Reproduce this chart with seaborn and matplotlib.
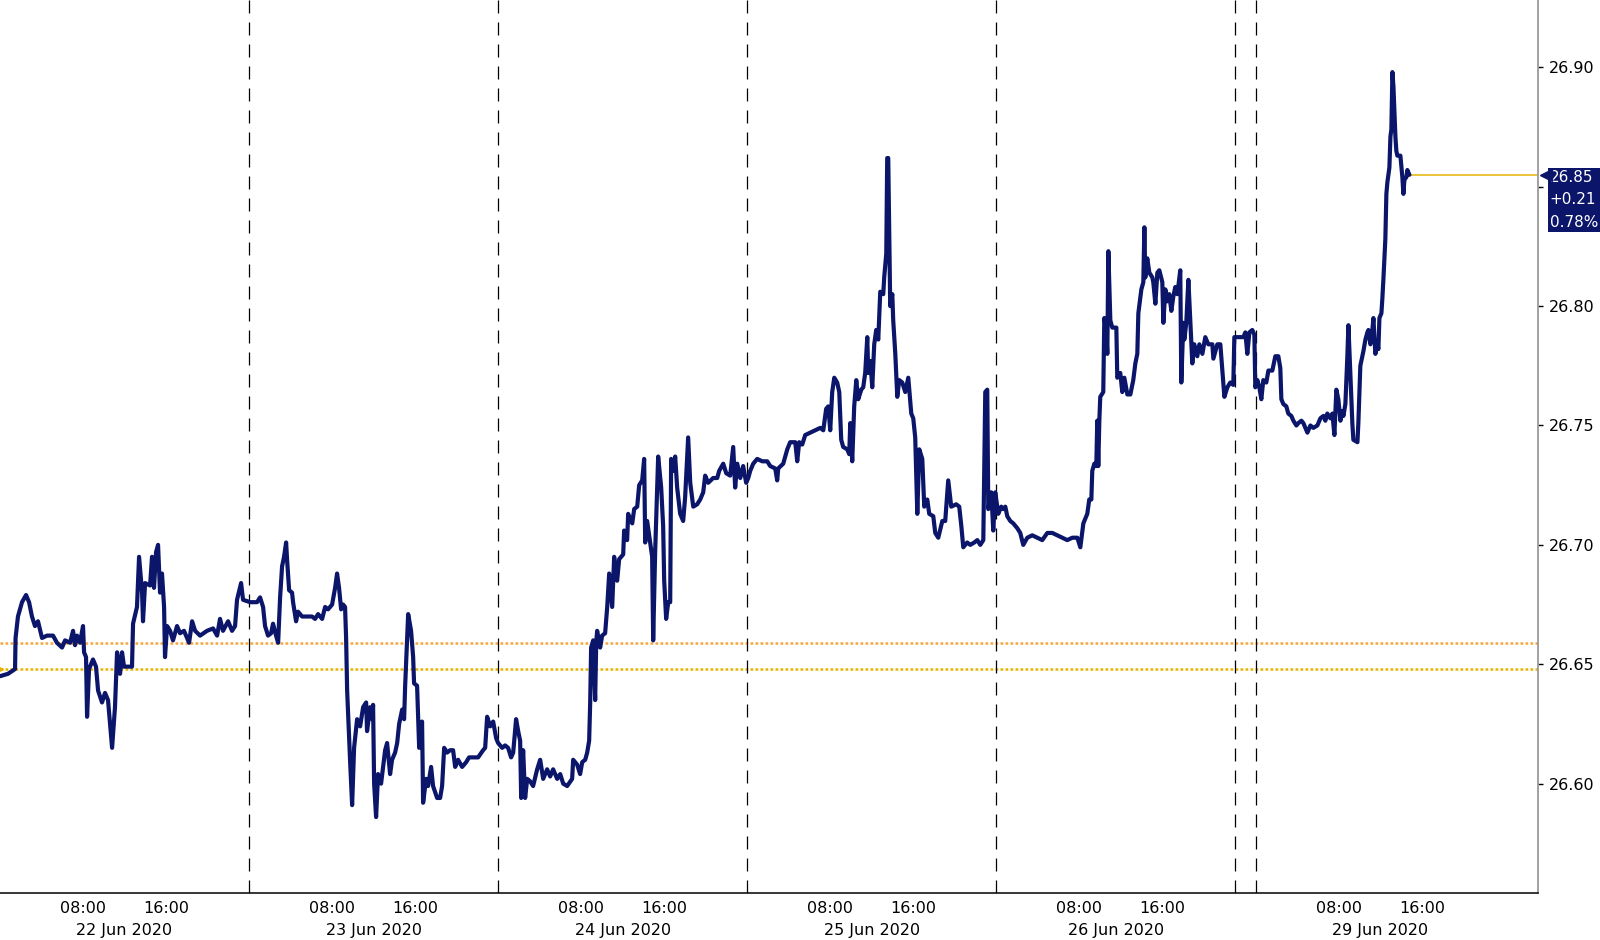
import pandas as pd
import seaborn as sns
import matplotlib.pyplot as plt
import matplotlib.transforms as mtransforms

# intraday prices, hours are on each session's clock
t22 = [0.00, 0.77, 1.45, 1.50, 1.73, 2.12, 2.51, 2.80, 3.08, 3.37, 3.66, 4.05, 4.53, 5.11, 5.49, 5.98, 6.27, 6.75, 7.04, 7.23,
       7.42, 7.71, 8.00, 8.10, 8.29, 8.39, 8.58, 8.96, 9.25, 9.45, 9.83, 10.12, 10.41, 10.80, 11.08, 11.28, 11.57, 11.76, 11.95, 12.72,
       12.82, 13.20, 13.40, 13.69, 13.78, 13.98, 14.46, 14.65, 14.84, 15.04, 15.23, 15.42, 15.61, 15.81, 15.90, 16.10, 16.39, 16.67, 17.06, 17.35,
       17.73, 18.02, 18.22, 18.51, 18.80, 19.28, 19.95, 20.53, 20.92, 21.20, 21.49, 21.98, 22.36, 22.65, 22.84, 23.23, 23.42]
p22 = [26.645, 26.646, 26.648, 26.661, 26.670, 26.676, 26.679, 26.676, 26.670, 26.666, 26.668, 26.661, 26.662, 26.662, 26.659, 26.657, 26.660, 26.659, 26.664, 26.658,
       26.662, 26.659, 26.666, 26.655, 26.653, 26.628, 26.648, 26.652, 26.649, 26.639, 26.634, 26.638, 26.635, 26.615, 26.632, 26.655, 26.646, 26.655, 26.649, 26.649,
       26.667, 26.674, 26.695, 26.680, 26.668, 26.684, 26.683, 26.695, 26.682, 26.697, 26.700, 26.680, 26.688, 26.674, 26.653, 26.666, 26.664, 26.660, 26.666, 26.663,
       26.664, 26.661, 26.659, 26.668, 26.664, 26.662, 26.664, 26.665, 26.662, 26.669, 26.664, 26.668, 26.664, 26.666, 26.677, 26.684, 26.677]

t23 = [0.10, 0.77, 1.06, 1.35, 1.54, 1.83, 2.12, 2.31, 2.60, 2.80, 2.99, 3.18, 3.37, 3.57, 3.66, 3.86, 4.14, 4.24, 4.53, 4.72,
       5.11, 5.59, 6.07, 6.36, 6.65, 7.04, 7.33, 7.61, 8.00, 8.29, 8.48, 8.67, 8.87, 9.06, 9.25, 9.35, 9.45, 9.73, 9.93, 10.12,
       10.41, 10.70, 10.99, 11.28, 11.37, 11.66, 11.86, 11.95, 12.05, 12.24, 12.43, 12.72, 12.92, 13.11, 13.30, 13.59, 13.78, 14.07, 14.27, 14.46,
       14.75, 14.94, 15.04, 15.23, 15.33, 15.61, 15.81, 15.90, 16.19, 16.39, 16.67, 16.77, 17.06, 17.25, 17.54, 17.73, 18.12, 18.41, 18.60, 18.80,
       19.08, 19.37, 19.66, 19.86, 20.14, 20.53, 20.92, 21.20, 21.59, 22.07, 22.55, 22.75, 22.94, 23.23, 23.52, 23.81]
p23 = [26.676, 26.676, 26.678, 26.674, 26.666, 26.662, 26.663, 26.667, 26.662, 26.659, 26.678, 26.691, 26.695, 26.701, 26.694, 26.681, 26.680, 26.676, 26.668, 26.672,
       26.670, 26.670, 26.670, 26.669, 26.671, 26.669, 26.674, 26.673, 26.675, 26.682, 26.688, 26.682, 26.673, 26.675, 26.674, 26.661, 26.639, 26.610, 26.591, 26.615,
       26.627, 26.624, 26.632, 26.634, 26.622, 26.632, 26.627, 26.633, 26.600, 26.586, 26.604, 26.600, 26.607, 26.614, 26.617, 26.604, 26.610, 26.613, 26.617, 26.625,
       26.631, 26.627, 26.641, 26.661, 26.671, 26.664, 26.653, 26.642, 26.641, 26.615, 26.626, 26.592, 26.602, 26.599, 26.607, 26.599, 26.594, 26.594, 26.599, 26.615,
       26.613, 26.614, 26.614, 26.607, 26.610, 26.607, 26.609, 26.611, 26.611, 26.611, 26.614, 26.615, 26.628, 26.624, 26.626, 26.619]

t24 = [0.00, 0.39, 0.67, 0.96, 1.25, 1.45, 1.73, 1.93, 2.12, 2.22, 2.41, 2.60, 2.80, 3.08, 3.37, 3.76, 4.05, 4.34, 4.72, 5.01,
       5.30, 5.69, 5.98, 6.27, 6.65, 7.13, 7.23, 7.61, 7.90, 8.10, 8.39, 8.58, 8.77, 8.87, 8.96, 9.16, 9.35, 9.45, 9.54, 9.83,
       10.02, 10.31, 10.51, 10.70, 10.99, 11.18, 11.47, 11.66, 12.05, 12.14, 12.43, 12.53, 12.92, 13.11, 13.40, 13.59, 13.88, 14.07, 14.17, 14.36,
       14.84, 14.94, 15.13, 15.42, 15.71, 15.90, 16.00, 16.19, 16.39, 16.58, 16.67, 16.87, 17.06, 17.25, 17.54, 17.83, 18.02, 18.31, 18.51, 18.80,
       19.18, 19.47, 19.76, 19.95, 20.24, 20.72, 21.11, 21.30, 21.69, 21.98, 22.36, 22.65, 22.84, 23.04, 23.33, 23.61, 23.90]
p24 = [26.617, 26.615, 26.616, 26.615, 26.611, 26.613, 26.627, 26.622, 26.618, 26.594, 26.614, 26.594, 26.602, 26.601, 26.599, 26.606, 26.610, 26.602, 26.606, 26.603,
       26.606, 26.602, 26.604, 26.600, 26.599, 26.602, 26.610, 26.608, 26.604, 26.609, 26.610, 26.613, 26.618, 26.634, 26.657, 26.660, 26.635, 26.659, 26.664, 26.657,
       26.662, 26.663, 26.674, 26.688, 26.674, 26.695, 26.685, 26.694, 26.696, 26.706, 26.702, 26.713, 26.709, 26.715, 26.716, 26.725, 26.727, 26.736, 26.701, 26.710,
       26.695, 26.660, 26.697, 26.737, 26.724, 26.708, 26.685, 26.669, 26.676, 26.676, 26.736, 26.731, 26.737, 26.724, 26.713, 26.710, 26.720, 26.745, 26.726, 26.716,
       26.717, 26.719, 26.722, 26.729, 26.726, 26.728, 26.728, 26.731, 26.734, 26.730, 26.729, 26.741, 26.724, 26.734, 26.728, 26.733, 26.726]

t25 = [0.10, 0.29, 0.58, 0.96, 1.45, 1.93, 2.22, 2.70, 2.89, 2.99, 3.47, 3.86, 4.14, 4.63, 4.82, 5.01, 5.30, 5.59, 6.07, 6.55,
       7.04, 7.33, 7.61, 7.81, 8.00, 8.19, 8.39, 8.67, 8.87, 9.06, 9.25, 9.64, 9.83, 9.93, 10.12, 10.31, 10.51, 10.70, 10.99, 11.18,
       11.37, 11.57, 11.66, 11.86, 12.05, 12.24, 12.43, 12.63, 12.82, 13.11, 13.20, 13.40, 13.49, 13.59, 13.78, 13.98, 14.07, 14.27, 14.46, 14.65,
       14.94, 15.23, 15.52, 15.81, 16.00, 16.19, 16.39, 16.58, 16.87, 17.06, 17.35, 17.54, 17.93, 18.12, 18.41, 18.80, 19.08, 19.37, 19.66, 20.14,
       20.43, 20.63, 20.82, 21.20, 21.49, 21.88, 22.17, 22.46, 22.75, 22.94, 23.13, 23.23, 23.52, 23.71, 23.90]
p25 = [26.728, 26.731, 26.734, 26.736, 26.735, 26.735, 26.733, 26.732, 26.727, 26.732, 26.734, 26.740, 26.743, 26.743, 26.735, 26.743, 26.742, 26.746, 26.747, 26.748,
       26.749, 26.748, 26.757, 26.758, 26.748, 26.764, 26.770, 26.768, 26.764, 26.744, 26.741, 26.740, 26.738, 26.751, 26.735, 26.758, 26.769, 26.761, 26.765, 26.766,
       26.772, 26.787, 26.772, 26.777, 26.766, 26.784, 26.790, 26.786, 26.806, 26.805, 26.812, 26.822, 26.862, 26.862, 26.800, 26.805, 26.794, 26.780, 26.762, 26.769,
       26.768, 26.764, 26.770, 26.755, 26.753, 26.745, 26.713, 26.740, 26.736, 26.716, 26.719, 26.713, 26.712, 26.705, 26.703, 26.710, 26.710, 26.727, 26.716, 26.717,
       26.716, 26.708, 26.699, 26.701, 26.700, 26.701, 26.702, 26.700, 26.702, 26.764, 26.765, 26.715, 26.722, 26.706, 26.722]

t26 = [0.19, 0.48, 0.67, 0.87, 1.06, 1.35, 1.64, 2.02, 2.31, 2.60, 2.99, 3.47, 3.95, 4.43, 4.92, 5.40, 5.88, 6.36, 6.84, 7.33,
       7.81, 8.10, 8.39, 8.58, 8.77, 8.96, 9.16, 9.25, 9.45, 9.64, 9.73, 9.83, 9.93, 10.02, 10.31, 10.41, 10.60, 10.70, 10.80, 10.99,
       11.18, 11.57, 11.66, 11.95, 12.14, 12.34, 12.63, 12.92, 13.20, 13.40, 13.59, 13.69, 13.98, 14.17, 14.27, 14.36, 14.55, 14.75, 15.04, 15.13,
       15.33, 15.52, 15.71, 16.00, 16.10, 16.29, 16.48, 16.67, 16.87, 17.06, 17.25, 17.45, 17.73, 17.83, 18.02, 18.12, 18.31, 18.51, 18.70, 18.89,
       19.08, 19.37, 19.57, 19.86, 20.14, 20.43, 20.82, 20.92, 21.30, 21.59, 21.78, 21.98, 22.27, 22.55, 22.84]
p26 = [26.713, 26.716, 26.715, 26.716, 26.712, 26.710, 26.709, 26.707, 26.705, 26.700, 26.703, 26.704, 26.703, 26.702, 26.705, 26.705, 26.704, 26.703, 26.702, 26.703,
       26.703, 26.699, 26.709, 26.711, 26.713, 26.719, 26.719, 26.731, 26.734, 26.733, 26.752, 26.733, 26.752, 26.762, 26.764, 26.795, 26.790, 26.780, 26.823, 26.794,
       26.791, 26.791, 26.770, 26.772, 26.764, 26.770, 26.763, 26.763, 26.769, 26.776, 26.780, 26.797, 26.807, 26.810, 26.833, 26.812, 26.820, 26.814, 26.812, 26.810,
       26.801, 26.814, 26.815, 26.810, 26.793, 26.807, 26.802, 26.805, 26.798, 26.804, 26.808, 26.805, 26.815, 26.768, 26.793, 26.786, 26.793, 26.811, 26.793, 26.776,
       26.784, 26.779, 26.784, 26.780, 26.787, 26.784, 26.784, 26.778, 26.784, 26.784, 26.773, 26.762, 26.766, 26.768, 26.767]

# 29 Jun session opens on Sunday evening (negative hours)
t29 = [-2.06, -1.19, -1.00, -0.81, -0.61, -0.33, -0.13, -0.04, 0.16, 0.35, 0.54, 0.73, 1.02, 1.22, 1.60, 1.89, 2.18, 2.37, 2.47, 2.66,
       2.95, 3.14, 3.43, 3.63, 3.92, 4.11, 4.40, 4.59, 4.98, 5.27, 5.55, 5.94, 6.23, 6.52, 6.71, 6.90, 7.19, 7.39, 7.58, 7.77,
       7.96, 8.16, 8.35, 8.45, 8.64, 8.83, 8.93, 9.12, 9.31, 9.41, 9.80, 9.89, 10.08, 10.37, 10.57, 10.76, 10.86, 11.05, 11.24, 11.34,
       11.53, 11.72, 11.82, 11.92, 12.11, 12.20, 12.30, 12.49, 12.59, 12.69, 12.88, 12.98, 13.07, 13.17, 13.27, 13.46, 13.55, 13.65, 13.94, 14.13,
       14.23, 14.33, 14.52, 14.61, 14.81]
p29 = [26.787, 26.787, 26.789, 26.780, 26.789, 26.790, 26.788, 26.766, 26.769, 26.766, 26.761, 26.769, 26.768, 26.773, 26.773, 26.779, 26.779, 26.774, 26.761, 26.759,
       26.758, 26.755, 26.754, 26.752, 26.750, 26.751, 26.752, 26.751, 26.747, 26.750, 26.749, 26.750, 26.753, 26.754, 26.752, 26.755, 26.753, 26.755, 26.746, 26.765,
       26.761, 26.752, 26.756, 26.754, 26.759, 26.779, 26.792, 26.772, 26.751, 26.744, 26.743, 26.751, 26.775, 26.781, 26.786, 26.789, 26.790, 26.784, 26.790, 26.795,
       26.780, 26.784, 26.782, 26.795, 26.797, 26.803, 26.811, 26.828, 26.847, 26.852, 26.858, 26.871, 26.874, 26.898, 26.892, 26.871, 26.865, 26.863, 26.863, 26.854,
       26.847, 26.853, 26.854, 26.857, 26.855]

days = ['22 Jun 2020', '23 Jun 2020', '24 Jun 2020', '25 Jun 2020', '26 Jun 2020', '29 Jun 2020']
day_start = [0, 24, 48, 72, 96, 121]
day_end = [24, 48, 72, 96, 119, 145]
hours = [t22, t23, t24, t25, t26, t29]
prices = [p22, p23, p24, p25, p26, p29]

ref_levels = [26.659, 26.648]
ref_colors = ['#f5a63f', '#e6b400']
last_label = '26.85\n+0.21\n0.78%'
yticks = [26.60, 26.65, 26.70, 26.75, 26.80, 26.85, 26.90]

navy = '#0b1569'
gold = '#e6b400'

frames = []
for d, s, t, p in zip(days, day_start, hours, prices):
    frames.append(pd.DataFrame({'t': [s + h for h in t], 'price': p, 'day': d}))
df = pd.concat(frames, ignore_index=True)

sns.set_style('white')
plt.rcParams['font.family'] = ['DejaVu Sans']

fig = plt.figure(figsize=(16, 9.4), dpi=100)
ax = fig.add_axes([0, 47 / 940, 1538 / 1600, 893 / 940])

for lvl, c in zip(ref_levels, ref_colors):
    ax.axhline(lvl, color=c, lw=1.8, ls=(0, (1.1, 0.9)), zorder=1)

for b in [24, 48, 72, 96, 119, 121]:
    ax.axvline(b, color='black', lw=0.9, ls=(0, (10.4, 7.2)), zorder=1)

sns.lineplot(data=df, x='t', y='price', ax=ax, color=navy, linewidth=3.0,
             estimator=None, sort=False, legend=False, zorder=3)

xmax = 148.2
ax.set_xlim(0, xmax)
ax.set_ylim(26.5542, 26.9282)

last_t = df['t'].iloc[-1]
last_p = df['price'].iloc[-1]
ax.hlines(last_p, last_t, xmax, color=gold, lw=1.1, zorder=2)
ax.plot([0], [ref_levels[1]], marker='>', ms=5, color=gold, clip_on=False, zorder=4)

# x axis: day boundaries as long ticks, 4h minor ticks
majors = [0, 24, 48, 72, 96, 119, 121]
minors, minor_labels = [], []
for s, e in zip(day_start, day_end):
    for h in [4, 8, 12, 16, 20, 24]:
        if s + h < e or (s + h == e and s == 121):
            minors.append(s + h)
            minor_labels.append(f'{h:02d}:00' if h in (8, 16) else '')
ax.set_xticks(majors)
ax.set_xticklabels([''] * len(majors))
ax.set_xticks(minors, minor=True)
ax.set_xticklabels(minor_labels, minor=True)
ax.tick_params(axis='x', which='major', length=34, width=1.1, color='black', direction='out')
ax.tick_params(axis='x', which='minor', length=3, width=1, color='black', direction='out',
               pad=3, labelsize=11.5, labelcolor='black')

for d, s, e in zip(days, day_start, day_end):
    mid = (s + e) / 2 if d != '29 Jun 2020' else s + 12
    ax.annotate(d, xy=(mid, 0), xycoords=('data', 'axes fraction'), xytext=(0, -21.5),
                textcoords='offset points', ha='center', va='top', fontsize=11.5, color='black')

# 26.85 label sits under the last-value tag
ax.yaxis.tick_right()
ax.set_yticks(yticks)
ax.set_yticklabels(['' if v == 26.85 else f'{v:.2f}' for v in yticks])
ax.tick_params(axis='y', length=3.5, width=1, color='black', direction='out', pad=4,
               labelsize=11.5, labelcolor='black')
ax.set_xlabel('')
ax.set_ylabel('')

for side in ['left', 'top']:
    ax.spines[side].set_visible(False)
ax.spines['right'].set_color('#9a9a9a')
ax.spines['right'].set_linewidth(1.3)
ax.spines['bottom'].set_color('black')
ax.spines['bottom'].set_linewidth(1.1)

# last value tag
blend = mtransforms.blended_transform_factory(ax.transAxes, ax.transData)
ptr = blend + mtransforms.ScaledTranslation(6 / 72, 0, fig.dpi_scale_trans)
ax.plot([1.0], [last_p], marker='<', ms=9, color=navy, transform=ptr, clip_on=False, zorder=5)
ax.annotate(last_label, xy=(1.0, last_p), xycoords=blend, xytext=(8.5, 3.8),
            textcoords='offset points', ha='left', va='top', fontsize=11,
            linespacing=1.65, color='white',
            bbox=dict(boxstyle='square,pad=0.12', fc=navy, ec='none'))

fig.savefig('out.png', dpi=100)
